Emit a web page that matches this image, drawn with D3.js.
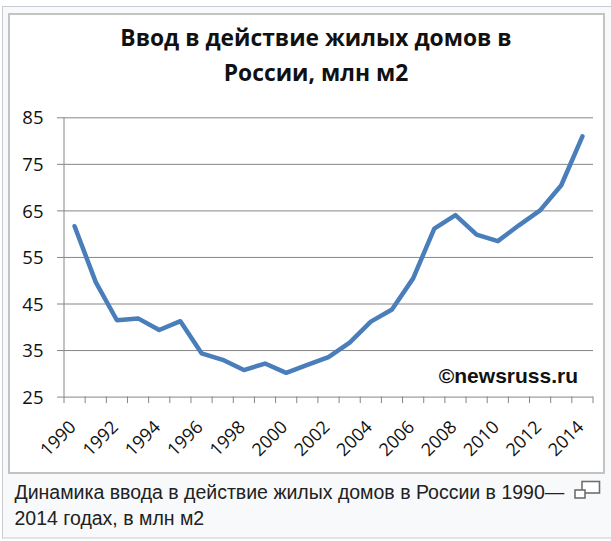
<!DOCTYPE html>
<html lang="ru">
<head>
	<meta charset="UTF-8">
	<title>Ввод в действие жилых домов</title>
	<script src="https://d3js.org/d3.v7.min.js"></script>
	<style>
		body {
			margin: 0;
			background: #fff;
		}
		svg text {
			fill: #111;
		}
		.tick-label {
			font-family: "Open Sans", sans-serif;
		}
		.caption {
			font-family: "Liberation Sans", Arial, sans-serif;
			font-size: 19.5px;
			fill: #202122;
		}
	</style>
</head>
<body>
	<div id="chart"></div>

<script>
	// years on the category axis
	const years = [1990, 1991, 1992, 1993, 1994, 1995, 1996, 1997, 1998, 1999, 2000, 2001, 2002,
		2003, 2004, 2005, 2006, 2007, 2008, 2009, 2010, 2011, 2012, 2013, 2014]
	// housing put into service, mln m2
	const housing = [61.6, 49.6, 41.4, 41.8, 39.3, 41.2, 34.3, 32.9, 30.7, 32.1, 30.1, 31.8, 33.5,
		36.6, 41.1, 43.7, 50.4, 61.1, 64.0, 59.8, 58.4, 61.8, 65.0, 70.4, 80.9]
	const yTicks = [25, 35, 45, 55, 65, 75, 85]
	const xLabels = [1990, 1992, 1994, 1996, 1998, 2000, 2002, 2004, 2006, 2008, 2010, 2012, 2014]
	const titleLines = ['Ввод в действие жилых домов в', 'России, млн м2']
	const captionLines = ['Динамика ввода в действие жилых домов в России в 1990—', '2014 годах, в млн м2']

	const W = 611, H = 541
	const plot = {left: 64, right: 593, top: 117.3, bottom: 396.6}
	const gridColor = '#868686'

	const svg = d3.select('#chart').append('svg').attr('width', W).attr('height', H)

	// wiki thumb frame
	svg.append('rect')
		.attr('x', 2.5).attr('y', 6.5).attr('width', W).attr('height', 531.5)
		.attr('fill', '#f8f9fa').attr('stroke', '#c8ccd1')
	// chart frame
	svg.append('rect')
		.attr('x', 9).attr('y', 14).attr('width', 595).attr('height', 459)
		.attr('fill', '#fff').attr('stroke', '#c3c3c3').attr('stroke-width', 2)

	const x = d3.scaleBand().domain(years).range([plot.left, plot.right])
	const y = d3.scaleLinear().domain([25, 85]).range([plot.bottom, plot.top])

	// horizontal grid + y axis
	const yAxis = svg.append('g')
		.attr('transform', `translate(${plot.left},0)`)
		.call(d3.axisLeft(y).tickValues(yTicks).tickSize(7)
			.tickSizeInner(-(plot.right - plot.left)))
	yAxis.select('.domain').attr('stroke', gridColor).attr('d', `M0,${plot.top}V${plot.bottom}`)
	yAxis.selectAll('.tick line')
		.attr('x1', -7)
		.attr('stroke', gridColor)
	yAxis.selectAll('.tick text')
		.attr('class', 'tick-label')
		.attr('x', -20.5)
		.attr('dy', '0.36em')
		.style('font-size', '18.5px')
		.attr('fill', '#111')

	// x axis: ticks sit between the categories
	const bounds = years.map(d => x(d)).concat([x.range()[1]])
	const xAxis = svg.append('g')
	xAxis.selectAll('line.xtick')
		.data(bounds)
		.join('line')
		.attr('class', 'xtick')
		.attr('x1', d => d).attr('x2', d => d)
		.attr('y1', plot.bottom).attr('y2', plot.bottom + 6.5)
		.attr('stroke', gridColor)

	xAxis.selectAll('text')
		.data(xLabels)
		.join('text')
		.attr('class', 'tick-label')
		.attr('text-anchor', 'end')
		.attr('transform', d => `translate(${x(d) + x.bandwidth() / 2 + 2.4},${plot.bottom + 31.5}) rotate(-45)`)
		.style('font-size', '18px')
		.text(d => d)

	// the series
	const line = d3.line()
		.x((d, i) => x(years[i]) + x.bandwidth() / 2)
		.y(d => y(d))

	svg.append('path')
		.datum(housing)
		.attr('d', line)
		.attr('fill', 'none')
		.attr('stroke', '#4a7ebb')
		.attr('stroke-width', 4.5)
		.attr('stroke-linejoin', 'round')
		.attr('stroke-linecap', 'round')

	// title
	svg.append('g').selectAll('text')
		.data(titleLines)
		.join('text')
		.attr('x', 316)
		.attr('y', (d, i) => 46 + i * 35)
		.attr('text-anchor', 'middle')
		.style('font-family', '"Open Sans", sans-serif')
		.style('font-weight', 'bold')
		.style('font-size', '22.8px')
		.text(d => d)

	// watermark
	svg.append('text')
		.attr('x', 578).attr('y', 383)
		.attr('text-anchor', 'end')
		.style('font-family', '"Liberation Sans", Arial, sans-serif')
		.style('font-weight', 'bold')
		.style('font-size', '21px')
		.attr('fill', '#1a1a1a')
		.text('©newsruss.ru')

	// caption under the thumbnail
	svg.append('g').selectAll('text')
		.data(captionLines)
		.join('text')
		.attr('class', 'caption')
		.attr('x', 14.5)
		.attr('y', (d, i) => 499 + i * 26)
		.text(d => d)

	// "enlarge" icon
	const icon = svg.append('g').attr('fill', '#fff').attr('stroke', '#6f6f6f').attr('stroke-width', 1.6)
	icon.append('rect').attr('x', 582).attr('y', 481.5).attr('width', 17.5).attr('height', 11.5)
	icon.append('rect').attr('x', 575).attr('y', 490).attr('width', 10).attr('height', 8)
</script>
</body>
</html>
